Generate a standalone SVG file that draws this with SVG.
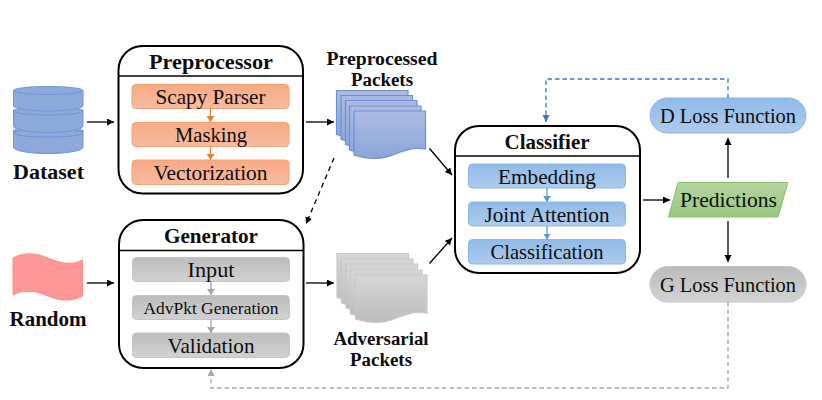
<svg xmlns="http://www.w3.org/2000/svg" width="822" height="400" viewBox="0 0 822 400">
<style>
text{font-family:"Liberation Serif","DejaVu Serif",serif;text-anchor:middle;fill:#0d0d0d}
.t{font-size:21.500px;font-weight:700}
.l{font-size:21.500px;font-weight:700}
.p{font-size:18px;font-weight:700}
.s{font-size:21.500px}
.box{fill:#fff;stroke:#000;stroke-width:2}
.o{fill:url(#og);stroke:#f4a070;stroke-width:1}
.b{fill:url(#bg);stroke:#8db8e6;stroke-width:1}
.g{fill:url(#gg);stroke:#c4c4c4;stroke-width:1}
.pb{fill:url(#pbg);stroke:#6c8fd6;stroke-width:1.2}
.pg{fill:url(#pgg);stroke:#c8c8c8;stroke-width:1.2}
.c{fill:#8eaadb;stroke:#6f94d6;stroke-width:1}
.a{fill:none;stroke:#000;stroke-width:1.300}
</style>
<defs>
<linearGradient id="og" x1="0" y1="0" x2="0" y2="1"><stop offset="0" stop-color="#f9a984"/><stop offset="1" stop-color="#f6bca2"/></linearGradient>
<linearGradient id="bg" x1="0" y1="0" x2="0" y2="1"><stop offset="0" stop-color="#8fbbe8"/><stop offset="1" stop-color="#aecbec"/></linearGradient>
<linearGradient id="gg" x1="0" y1="0" x2="0" y2="1"><stop offset="0" stop-color="#bcbcbc"/><stop offset="1" stop-color="#d2d2d2"/></linearGradient>
<linearGradient id="pbg" x1="0" y1="0" x2="0" y2="1"><stop offset="0" stop-color="#aebbe2"/><stop offset="1" stop-color="#8ba6da"/></linearGradient>
<linearGradient id="pgg" x1="0" y1="0" x2="0" y2="1"><stop offset="0" stop-color="#d6d6d6"/><stop offset="1" stop-color="#bdbdbd"/></linearGradient>
<linearGradient id="gr" x1="0" y1="0" x2="0" y2="1"><stop offset="0" stop-color="#b5d5a3"/><stop offset="1" stop-color="#97c77f"/></linearGradient>
<marker id="mk" markerUnits="userSpaceOnUse" markerWidth="7" markerHeight="8" refX="7" refY="3.500" orient="auto"><path d="M0 0L7 3.500L0 7Z" fill="#000"/></marker>
<marker id="mo" markerUnits="userSpaceOnUse" markerWidth="7" markerHeight="8" refX="6" refY="4" orient="auto"><path d="M0 0L6 4L0 8Z" fill="#ed7d31"/></marker>
<marker id="mb" markerUnits="userSpaceOnUse" markerWidth="7" markerHeight="8" refX="6" refY="4" orient="auto"><path d="M0 0L6 4L0 8Z" fill="#5b9bd5"/></marker>
<marker id="mg" markerUnits="userSpaceOnUse" markerWidth="7" markerHeight="8" refX="6" refY="4" orient="auto"><path d="M0 0L6 4L0 8Z" fill="#a6a6a6"/></marker>
<marker id="mdb" markerUnits="userSpaceOnUse" markerWidth="7" markerHeight="8" refX="7" refY="3.500" orient="auto"><path d="M0 0L7 3.500L0 7Z" fill="#4472c4"/></marker>
<marker id="mdg" markerUnits="userSpaceOnUse" markerWidth="7" markerHeight="8" refX="7" refY="3.500" orient="auto"><path d="M0 0L7 3.500L0 7Z" fill="#a6a6a6"/></marker>
<path id="sheet" d="M0 0H71.500V38C58 36 48 40 36 45C24 49 12 48 0 44Z"/>
</defs>
<rect width="822" height="400" fill="#fff"/>

<g id="dataset">
<path class="c" d="M13.500 130V147C13.500 151 30 153.500 48 153.500C66 153.500 83 151 83 147V130Z"/>
<ellipse class="c" cx="48.200" cy="133" rx="34.700" ry="4"/>
<path class="c" d="M13.500 110V126C13.500 130 30 132.500 48 132.500C66 132.500 83 130 83 126V110Z"/>
<ellipse class="c" cx="48.200" cy="111" rx="34.700" ry="4"/>
<path class="c" d="M13.500 90.500V106C13.500 108.500 30 111 48 111C66 111 83 108.500 83 106V90.500Z"/>
<ellipse class="c" cx="48.200" cy="90.500" rx="34.700" ry="4"/>
<text class="l" x="48.500" y="179" textLength="71" lengthAdjust="spacingAndGlyphs">Dataset</text>
</g>

<g id="random">
<path d="M13 258C26 251 38 254 48 258C60 263 72 266 82.500 260V296C70 302 60 301 48 296C36 291 24 289 13 295Z" fill="#ff9797" stroke="#ff8a8a" stroke-width="1"/>
<text class="l" x="48" y="326" textLength="77" lengthAdjust="spacingAndGlyphs">Random</text>
</g>

<g id="preprocessor">
<rect class="box" x="118.500" y="46" width="184.500" height="147.500" rx="24"/>
<line x1="118.500" y1="76" x2="303" y2="76" stroke="#000" stroke-width="1.500"/>
<text class="t" x="211" y="69" textLength="124" lengthAdjust="spacingAndGlyphs">Preprocessor</text>
<rect class="o" x="132" y="84.500" width="157" height="24" rx="4"/>
<text class="s" x="210.500" y="104" textLength="110" lengthAdjust="spacingAndGlyphs">Scapy Parser</text>
<rect class="o" x="132" y="122.500" width="157" height="24" rx="4"/>
<text class="s" x="211" y="142" textLength="72" lengthAdjust="spacingAndGlyphs">Masking</text>
<rect class="o" x="132" y="160" width="157" height="24.500" rx="4"/>
<text class="s" x="210.500" y="180" textLength="114" lengthAdjust="spacingAndGlyphs">Vectorization</text>
</g>

<g id="generator">
<rect class="box" x="119" y="220" width="184.500" height="148" rx="24"/>
<line x1="119" y1="250.500" x2="303.500" y2="250.500" stroke="#000" stroke-width="1.500"/>
<text class="t" x="211" y="243" textLength="94" lengthAdjust="spacingAndGlyphs">Generator</text>
<rect class="g" x="132.500" y="257.500" width="157" height="24" rx="4"/>
<text class="s" x="211" y="277" textLength="47" lengthAdjust="spacingAndGlyphs">Input</text>
<rect class="g" x="132.500" y="295.500" width="157" height="24" rx="4"/>
<text x="211" y="314" font-size="17.500" textLength="135" lengthAdjust="spacingAndGlyphs">AdvPkt Generation</text>
<rect class="g" x="132.500" y="333" width="157" height="24.500" rx="4"/>
<text class="s" x="211" y="353" textLength="87" lengthAdjust="spacingAndGlyphs">Validation</text>
</g>

<g id="preprocessed-packets">
<text class="p" x="382" y="65" textLength="111" lengthAdjust="spacingAndGlyphs">Preprocessed</text>
<text class="p" x="382" y="86" textLength="62" lengthAdjust="spacingAndGlyphs">Packets</text>
<use href="#sheet" class="pb" x="336.500" y="90.500"/>
<use href="#sheet" class="pb" x="341" y="95.500"/>
<use href="#sheet" class="pb" x="345.500" y="100.500"/>
<use href="#sheet" class="pb" x="349.500" y="106"/>
<use href="#sheet" class="pb" x="354" y="111"/>
</g>

<g id="adversarial-packets">
<use href="#sheet" class="pg" x="337" y="253.500"/>
<use href="#sheet" class="pg" x="341.500" y="259"/>
<use href="#sheet" class="pg" x="346" y="264"/>
<use href="#sheet" class="pg" x="350.500" y="270"/>
<use href="#sheet" class="pg" x="355.500" y="275"/>
<text class="p" x="381" y="345" textLength="95" lengthAdjust="spacingAndGlyphs">Adversarial</text>
<text class="p" x="381" y="366" textLength="62" lengthAdjust="spacingAndGlyphs">Packets</text>
</g>

<g id="classifier">
<rect class="box" x="455" y="126" width="185" height="147" rx="24"/>
<line x1="455" y1="156" x2="640" y2="156" stroke="#000" stroke-width="1.500"/>
<text class="t" x="547" y="149" textLength="85" lengthAdjust="spacingAndGlyphs">Classifier</text>
<rect class="b" x="468.500" y="164" width="157" height="24" rx="4"/>
<text class="s" x="547" y="184" textLength="98" lengthAdjust="spacingAndGlyphs">Embedding</text>
<rect class="b" x="468.500" y="202" width="157" height="24" rx="4"/>
<text class="s" x="547" y="222" textLength="125" lengthAdjust="spacingAndGlyphs">Joint Attention</text>
<rect class="b" x="468.500" y="239.500" width="157" height="24.500" rx="4"/>
<text class="s" x="547" y="259" textLength="113" lengthAdjust="spacingAndGlyphs">Classification</text>
</g>

<g id="d-loss">
<rect class="b" x="650" y="98" width="156" height="35" rx="17.500"/>
<text class="s" x="728" y="123" textLength="136" lengthAdjust="spacingAndGlyphs">D Loss Function</text>
</g>
<g id="predictions">
<path d="M678 182.500H788L778 217H668.500Z" fill="url(#gr)" stroke="#8cc072"/>
<text class="s" x="728.500" y="207" textLength="97" lengthAdjust="spacingAndGlyphs">Predictions</text>
</g>
<g id="g-loss">
<rect class="g" x="650" y="266.500" width="156" height="35.500" rx="17.700"/>
<text class="s" x="728" y="292" textLength="136" lengthAdjust="spacingAndGlyphs">G Loss Function</text>
</g>

<g id="connectors">
<path class="a" d="M87 122H114" marker-end="url(#mk)"/>
<path class="a" d="M306 122H334" marker-end="url(#mk)"/>
<path class="a" d="M87 283H114" marker-end="url(#mk)"/>
<path class="a" d="M306 283H334" marker-end="url(#mk)"/>
<path class="a" d="M429.500 148.500L452 175" marker-end="url(#mk)"/>
<path class="a" d="M429.500 263.500L452 238" marker-end="url(#mk)"/>
<path class="a" d="M334 158L306 224" stroke-dasharray="5 4" marker-end="url(#mk)"/>
<path class="a" d="M643 200H670" marker-end="url(#mk)"/>
<path class="a" d="M728 178V138" marker-end="url(#mk)"/>
<path class="a" d="M728 221V262" marker-end="url(#mk)"/>
<path d="M728 98V79H546V122" fill="none" stroke="#4472c4" stroke-width="1.300" stroke-dasharray="4.500 3" marker-end="url(#mdb)"/>
<path d="M728 302V388H211V369" fill="none" stroke="#a6a6a6" stroke-width="1.300" stroke-dasharray="4.500 3" marker-end="url(#mdg)"/>
<path d="M210.500 108.500V122" fill="none" stroke="#ed7d31" stroke-width="1.300" marker-end="url(#mo)"/>
<path d="M210.500 146.500V160" fill="none" stroke="#ed7d31" stroke-width="1.300" marker-end="url(#mo)"/>
<path d="M211 281.500V295" fill="none" stroke="#a6a6a6" stroke-width="1.300" marker-end="url(#mg)"/>
<path d="M211 319.500V333" fill="none" stroke="#a6a6a6" stroke-width="1.300" marker-end="url(#mg)"/>
<path d="M547 188V202" fill="none" stroke="#5b9bd5" stroke-width="1.300" marker-end="url(#mb)"/>
<path d="M547 226V239.500" fill="none" stroke="#5b9bd5" stroke-width="1.300" marker-end="url(#mb)"/>
</g>
</svg>
